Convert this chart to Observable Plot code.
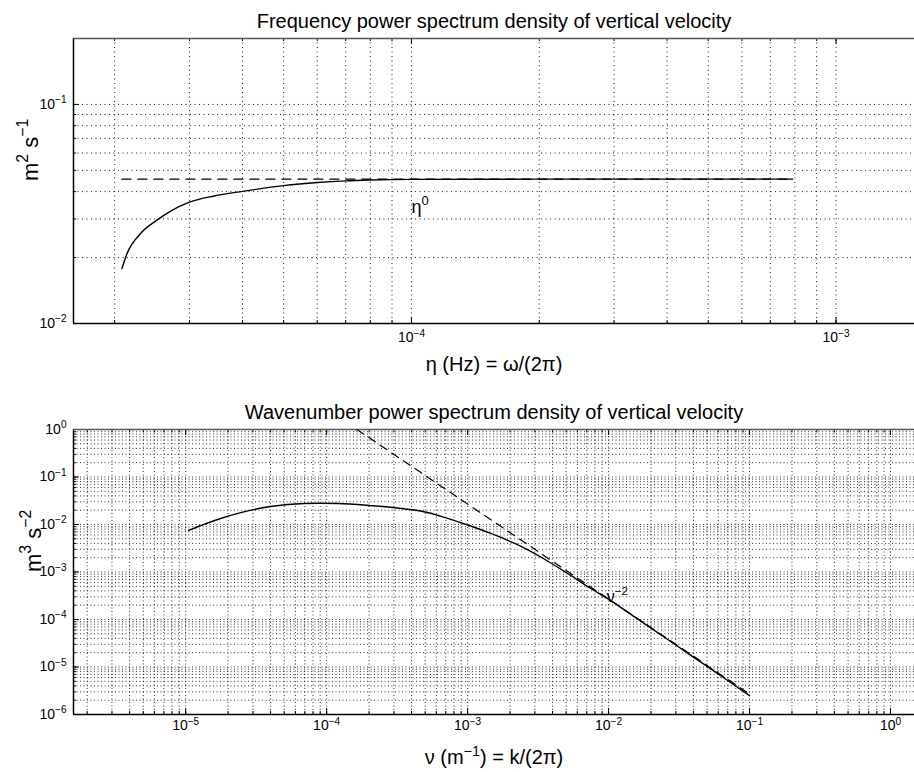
<!DOCTYPE html>
<html><head><meta charset="utf-8">
<script src="https://cdn.jsdelivr.net/npm/d3@7"></script>
<script src="https://cdn.jsdelivr.net/npm/@observablehq/plot@0.6"></script>
<style>
body{margin:0;background:#fff;}
#chart{position:relative;width:914px;height:772px;overflow:hidden;background:#fff;}
#chart svg{position:absolute;left:0;}
</style></head><body><div id="chart"></div>
<script>
// Text written as "base^{sup}" is drawn with a real superscript.
// ---------- Top panel: frequency spectrum ----------
const freqTitle = "Frequency power spectrum density of vertical velocity";
const freqXLabel = "η (Hz) = ω/(2π)";
const freqYLabel = "m^{2} s^{−1}";
const freqEta = [2.08e-5, 2.14e-5, 2.3e-5, 2.52e-5, 2.71e-5, 3e-5, 3.43e-5, 4e-5, 5e-5, 6e-5, 7e-5, 8e-5, 1e-4, 2e-4, 4e-4, 7.9e-4];
const freqPSD = [0.0178, 0.0209, 0.0257, 0.0297, 0.0326, 0.0358, 0.0382, 0.0401, 0.0426, 0.0440, 0.0448, 0.0452, 0.0455, 0.0456, 0.0456, 0.0456];
const freqRefEta = [2.08e-5, 7.9e-4];
const freqRefPSD = [0.0456, 0.0456];
const freqNote = ["η^{0}"];
const freqNoteX = [1e-4];
const freqNoteY = [0.034];
const freqXDomain = [1.6e-5, 1.53e-3];
const freqYDomain = [0.01, 0.2];
const freqXTicks = [1e-4, 1e-3];
const freqXTickLabels = ["10^{−4}", "10^{−3}"];
const freqYTicks = [0.01, 0.1];
const freqYTickLabels = ["10^{−2}", "10^{−1}"];

// ---------- Bottom panel: wavenumber spectrum ----------
const wavTitle = "Wavenumber power spectrum density of vertical velocity";
const wavXLabel = "ν (m^{−1}) = k/(2π)";
const wavYLabel = "m^{3} s^{−2}";
const wavNu = [1.05e-5, 1.4e-5, 1.77e-5, 2.5e-5, 4.0e-5, 6.9e-5, 9e-5, 1.2e-4, 2.05e-4, 3.5e-4, 5.2e-4, 6.4e-4, 1.05e-3, 1.46e-3, 2.2e-3, 3.3e-3, 5.1e-3, 7.4e-3, 0.0108, 0.015, 0.02, 0.03, 0.05, 0.07, 0.1];
const wavPSD = [0.0075, 0.0105, 0.0134, 0.018, 0.0239, 0.0277, 0.028, 0.0277, 0.025, 0.0215, 0.0179, 0.0150, 0.0093, 0.0065, 0.0039, 0.00207, 9.4e-4, 4.6e-4, 2.3e-4, 1.18e-4, 6.6e-5, 2.9e-5, 1.03e-5, 5.2e-6, 2.5e-6];
const wavRefNu = [1.64e-4, 0.1];
const wavRefPSD = [1, 2.7e-6];
const wavNote = ["ν^{−2}"];
const wavNoteX = [0.0097];
const wavNoteY = [3.0e-4];
const wavXDomain = [1.6e-6, 1.48];
const wavYDomain = [1e-6, 1];
const wavXTicks = [1e-5, 1e-4, 1e-3, 1e-2, 1e-1, 1];
const wavXTickLabels = ["10^{−5}", "10^{−4}", "10^{−3}", "10^{−2}", "10^{−1}", "10^{0}"];
const wavYTicks = [1e-6, 1e-5, 1e-4, 1e-3, 1e-2, 1e-1, 1];
const wavYTickLabels = ["10^{−6}", "10^{−5}", "10^{−4}", "10^{−3}", "10^{−2}", "10^{−1}", "10^{0}"];

// minor grid positions (1..9 × each decade) inside a domain
function minorGrid(domain) {
  const out = [];
  for (let e = Math.floor(Math.log10(domain[0])); e <= Math.ceil(Math.log10(domain[1])); e++) {
    for (let m = 1; m <= 9; m++) {
      const v = +(m * Math.pow(10, e)).toPrecision(6);
      if (v > domain[0] * 1.001 && v < domain[1] * 0.999) out.push(v);
    }
  }
  return out;
}
const fmt = (ticks, labels) => v => labels[ticks.findIndex(t => Math.abs(t / v - 1) < 1e-6)];

const FONT = "'Liberation Sans', Arial, Helvetica, sans-serif";

function panel(o) {
  const pts = o.xs.map((x, i) => ({x, y: o.ys[i]}));
  const ref = o.rx.map((x, i) => ({x, y: o.ry[i]}));
  const notes = o.note.map((t, i) => ({t, x: o.nx[i], y: o.ny[i]}));
  const fw = 914 - 73, fh = o.height - o.mt - o.mb;
  const minX = minorGrid(o.xDomain), minY = minorGrid(o.yDomain);
  const grid = {stroke: "#000", strokeOpacity: o.gridOp, strokeWidth: 1, strokeDasharray: o.gridDash};
  return Plot.plot({
    width: 914, height: o.height,
    marginLeft: 73, marginRight: 0, marginTop: o.mt, marginBottom: o.mb,
    style: {fontFamily: FONT, fontSize: "14px", background: "white", color: "black", overflow: "visible"},
    x: {type: "log", domain: o.xDomain},
    y: {type: "log", domain: o.yDomain},
    marks: [
      Plot.ruleX(minX, grid),
      Plot.ruleY(minY, grid),
      // inward tick marks (MATLAB style)
      Plot.ruleX(minX, {stroke: "#000", strokeWidth: 1, insetTop: fh - 3}),
      Plot.ruleX(minX, {stroke: "#000", strokeWidth: 1, insetBottom: fh - 3}),
      Plot.ruleX(o.xTicks, {stroke: "#000", strokeWidth: 1, insetTop: fh - 6}),
      Plot.ruleX(o.xTicks, {stroke: "#000", strokeWidth: 1, insetBottom: fh - 6}),
      Plot.ruleY(minY, {stroke: "#000", strokeWidth: 1, insetRight: fw - 3}),
      Plot.ruleY(o.yTicks, {stroke: "#000", strokeWidth: 1, insetRight: fw - 6}),
      Plot.ruleX([o.xDomain[0]], {stroke: "#000", strokeWidth: 1.5}),
      Plot.ruleY([o.yDomain[0]], {stroke: "#000", strokeWidth: 1.5}),
      Plot.ruleY([o.yDomain[1]], {stroke: "#555", strokeWidth: 1.5}),
      Plot.line(ref, {x: "x", y: "y", stroke: "#000", strokeWidth: 1.2, strokeDasharray: o.dash}),
      Plot.line(pts, {x: "x", y: "y", stroke: "#000", strokeWidth: 1.4, curve: "monotone-x"}),
      Plot.text(notes, {x: "x", y: "y", text: "t", textAnchor: "start", fontSize: o.noteSize, fill: "#000"}),
      Plot.axisX({ticks: o.xTicks, tickFormat: fmt(o.xTicks, o.xTickLabels), tickSize: 0, tickPadding: o.xPad, label: null, fontSize: 14}),
      Plot.axisY({ticks: o.yTicks, tickFormat: fmt(o.yTicks, o.yTickLabels), tickSize: 0, tickPadding: 7, label: null, fontSize: 14}),
      Plot.text([o.title], {frameAnchor: "top", dy: o.titleDy, text: d => d, fontSize: 20, lineAnchor: "middle", fill: "#000"}),
      Plot.text([o.xLabel], {frameAnchor: "bottom", dy: o.xLabDy, text: d => d, fontSize: 20, lineAnchor: "middle", fill: "#000"}),
      Plot.text([o.yLabel], {frameAnchor: "left", dx: o.yLabDx, text: d => d, fontSize: 22, rotate: -90, lineAnchor: "middle", fill: "#000"})
    ]
  });
}

// turn "a^{b}c" inside <text> elements into tspans with a raised, smaller superscript
function superscripts(svg) {
  svg.querySelectorAll("text").forEach(t => {
    const s = t.textContent;
    if (!s.includes("^{")) return;
    const fs = parseFloat(getComputedStyle(t).fontSize) || 12;
    const parts = s.split(/(\^\{[^}]*\})/).filter(p => p.length);
    while (t.firstChild) t.removeChild(t.firstChild);
    let raised = 0;
    const NS = "http://www.w3.org/2000/svg";
    parts.forEach(p => {
      const ts = document.createElementNS(NS, "tspan");
      if (p.startsWith("^{")) {
        ts.textContent = p.slice(2, -1);
        ts.setAttribute("font-size", (fs * 0.72).toFixed(1));
        const up = fs * 0.42;
        ts.setAttribute("dy", (-up - raised).toFixed(1));
        raised = up;
      } else {
        ts.textContent = p;
        if (raised) ts.setAttribute("dy", raised.toFixed(1));
        raised = 0;
      }
      t.appendChild(ts);
    });
  });
}

const topPanel = panel({
  height: 380, mt: 38, mb: 57,
  xs: freqEta, ys: freqPSD, rx: freqRefEta, ry: freqRefPSD,
  note: freqNote, nx: freqNoteX, ny: freqNoteY, noteSize: 18,
  xDomain: freqXDomain, yDomain: freqYDomain,
  xTicks: freqXTicks, xTickLabels: freqXTickLabels, yTicks: freqYTicks, yTickLabels: freqYTickLabels,
  gridOp: 0.9, gridDash: "1,3.5", dash: "9,7", xPad: 9,
  title: freqTitle, xLabel: freqXLabel, yLabel: freqYLabel,
  titleDy: -17, xLabDy: 41, yLabDx: -43
});
topPanel.style.top = "0px";

const bottomPanel = panel({
  height: 392, mt: 49, mb: 58,
  xs: wavNu, ys: wavPSD, rx: wavRefNu, ry: wavRefPSD,
  note: wavNote, nx: wavNoteX, ny: wavNoteY, noteSize: 16,
  xDomain: wavXDomain, yDomain: wavYDomain,
  xTicks: wavXTicks, xTickLabels: wavXTickLabels, yTicks: wavYTicks, yTickLabels: wavYTickLabels,
  gridOp: 0.8, gridDash: "1,2.5", dash: "8,6", xPad: 6,
  title: wavTitle, xLabel: wavXLabel, yLabel: wavYLabel,
  titleDy: -17, xLabDy: 43, yLabDx: -40
});
bottomPanel.style.top = "380px";

const chart = document.getElementById("chart");
chart.appendChild(topPanel);
chart.appendChild(bottomPanel);
superscripts(topPanel);
superscripts(bottomPanel);
</script>
</body></html>
